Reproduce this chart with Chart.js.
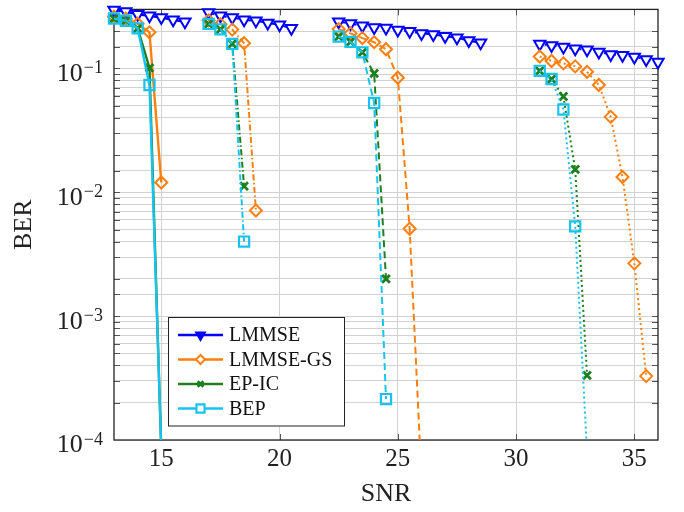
<!DOCTYPE html>
<html>
<head>
<meta charset="utf-8">
<script src="https://cdn.jsdelivr.net/npm/chart.js@4.4.1/dist/chart.umd.min.js"></script>
<style>
  html, body { margin: 0; padding: 0; background: #fff; }
  #wrap { width: 684px; height: 512px; }
</style>
</head>
<body>
<div id="wrap"><canvas id="ber" width="684" height="512"></canvas></div>
<script>
// axis ticks
const xTicks = [15, 20, 25, 30, 35];
const yExponents = [-1, -2, -3, -4];
const seriesNames = ['LMMSE', 'LMMSE-GS', 'EP-IC', 'BEP'];

// solid group
const snrSolidA = [13, 13.5, 14, 14.5, 15, 15.5, 16];
const snrSolidB = [13, 13.5, 14, 14.5, 15];
const lmmseSolid = [0.297, 0.288, 0.274, 0.266, 0.258, 0.247, 0.238];
const lmmseGsSolid = [0.262, 0.252, 0.23, 0.196, 0.012];
const epicSolid = [0.253, 0.243, 0.211, 0.101, 0.00008];
const bepSolid = [0.253, 0.243, 0.211, 0.0736, 0.000085];

// dash-dot group
const snrDashDotA = [17, 17.5, 18, 18.5, 19, 19.5, 20, 20.5];
const snrDashDotB = [17, 17.5, 18, 18.5, 19];
const snrDashDotC = [17, 17.5, 18, 18.5];
const lmmseDashDot = [0.283, 0.266, 0.258, 0.247, 0.243, 0.233, 0.225, 0.211];
const lmmseGsDashDot = [0.245, 0.228, 0.206, 0.16, 0.00713];
const epicDashDot = [0.229, 0.207, 0.158, 0.0112];
const bepDashDot = [0.229, 0.207, 0.158, 0.0040];

// dashed group
const snrDashedA = [22.5, 23, 23.5, 24, 24.5, 25, 25.5, 26, 26.5, 27, 27.5, 28, 28.5];
const snrDashedB = [22.5, 23, 23.5, 24, 24.5, 25, 25.5, 26];
const snrDashedC = [22.5, 23, 23.5, 24, 24.5];
const lmmseDashed = [0.239, 0.231, 0.221, 0.214, 0.212, 0.205, 0.200, 0.192, 0.188, 0.182, 0.177, 0.168, 0.161];
const lmmseGsDashed = [0.208, 0.192, 0.176, 0.163, 0.143, 0.0842, 0.00508, 0.00005];
const epicDashed = [0.181, 0.164, 0.135, 0.0912, 0.0020];
const bepDashed = [0.181, 0.164, 0.135, 0.0526, 0.000214];

// dotted group
const snrDottedA = [31, 31.5, 32, 32.5, 33, 33.5, 34, 34.5, 35, 35.5, 36];
const snrDottedB = [31, 31.5, 32, 32.5, 33, 33.5, 34, 34.5, 35, 35.5];
const snrDottedC = [31, 31.5, 32, 32.5, 33];
const lmmseDotted = [0.158, 0.153, 0.149, 0.144, 0.142, 0.136, 0.130, 0.128, 0.124, 0.118, 0.113];
const lmmseGsDotted = [0.125, 0.115, 0.110, 0.104, 0.094, 0.0736, 0.0407, 0.0133, 0.00267, 0.000328];
const epicDotted = [0.0957, 0.0822, 0.0594, 0.0153, 0.000333];
const bepDotted = [0.0957, 0.0822, 0.0466, 0.00531, 0.00008];

const FONT = "'Liberation Serif', 'Times New Roman', serif";

// marker look per series
const look = {
  'LMMSE':    { color: '#0000ff', pointStyle: 'triangle', rotation: 180, radius: 6.5, bw: 2,   bg: '#ffffff', order: 4 },
  'LMMSE-GS': { color: '#ff7f0e', pointStyle: 'rectRot',  rotation: 0,   radius: 6,   bw: 2,   bg: 'rgba(0,0,0,0)', order: 3 },
  'EP-IC':    { color: '#1d7f1d', pointStyle: 'crossRot', rotation: 0,   radius: 5.5, bw: 2.8, bg: 'rgba(0,0,0,0)', order: 2 },
  'BEP':      { color: '#17c3ee', pointStyle: 'rect',     rotation: 0,   radius: 7.2, bw: 2.2, bg: 'rgba(0,0,0,0)', order: 1 }
};

const DASH = {
  solid: [],
  dashDot: [6, 2.5, 1.5, 2.5],
  dashed: [7, 4],
  dotted: [2, 3]
};

function makeSet(name, xs, ys, dash) {
  const s = look[name];
  return {
    label: name,
    data: xs.map((x, i) => ({ x: x, y: ys[i] })),
    borderColor: s.color,
    backgroundColor: s.color,
    borderWidth: dash.length ? 2 : 2.4,
    borderDash: dash,
    pointStyle: s.pointStyle,
    pointRotation: s.rotation,
    pointRadius: s.radius,
    pointBorderWidth: s.bw,
    pointBorderColor: s.color,
    pointBackgroundColor: s.bg,
    tension: 0,
    fill: false,
    order: s.order,
    clip: { left: 8, top: 8, right: 8, bottom: 0 }
  };
}

const datasets = [
  makeSet('LMMSE', snrSolidA, lmmseSolid, DASH.solid),
  makeSet('LMMSE-GS', snrSolidB, lmmseGsSolid, DASH.solid),
  makeSet('EP-IC', snrSolidB, epicSolid, DASH.solid),
  makeSet('BEP', snrSolidB, bepSolid, DASH.solid),

  makeSet('LMMSE', snrDashDotA, lmmseDashDot, DASH.dashDot),
  makeSet('LMMSE-GS', snrDashDotB, lmmseGsDashDot, DASH.dashDot),
  makeSet('EP-IC', snrDashDotC, epicDashDot, DASH.dashDot),
  makeSet('BEP', snrDashDotC, bepDashDot, DASH.dashDot),

  makeSet('LMMSE', snrDashedA, lmmseDashed, DASH.dashed),
  makeSet('LMMSE-GS', snrDashedB, lmmseGsDashed, DASH.dashed),
  makeSet('EP-IC', snrDashedC, epicDashed, DASH.dashed),
  makeSet('BEP', snrDashedC, bepDashed, DASH.dashed),

  makeSet('LMMSE', snrDottedA, lmmseDotted, DASH.dotted),
  makeSet('LMMSE-GS', snrDottedB, lmmseGsDotted, DASH.dotted),
  makeSet('EP-IC', snrDottedC, epicDotted, DASH.dotted),
  makeSet('BEP', snrDottedC, bepDotted, DASH.dotted)
];

// frame + inward tick marks (under the data, like pgfplots)
const framePlugin = {
  id: 'frame',
  beforeDatasetsDraw(chart) {
    const { ctx, chartArea: a, scales } = chart;
    ctx.save();
    ctx.strokeStyle = '#555';
    ctx.lineWidth = 1;
    ctx.beginPath();
    scales.y.ticks.forEach(t => {
      const py = Math.round(scales.y.getPixelForValue(t.value)) + 0.5;
      if (py < a.top + 1 || py > a.bottom - 1) return;
      ctx.moveTo(a.left, py); ctx.lineTo(a.left + 6, py);
      ctx.moveTo(a.right, py); ctx.lineTo(a.right - 6, py);
    });
    xTicks.forEach(v => {
      const px = Math.round(scales.x.getPixelForValue(v)) + 0.5;
      ctx.moveTo(px, a.bottom); ctx.lineTo(px, a.bottom - 6);
      ctx.moveTo(px, a.top); ctx.lineTo(px, a.top + 6);
    });
    ctx.stroke();
    ctx.strokeStyle = '#222';
    ctx.lineWidth = 1.3;
    ctx.strokeRect(a.left, a.top, a.right - a.left, a.bottom - a.top);
    ctx.restore();
  },
  afterDraw(chart) {
    const { ctx, scales } = chart;
    ctx.save();
    // y tick labels 10^k
    ctx.fillStyle = '#222';
    yExponents.forEach(k => {
      const py = scales.y.getPixelForValue(Math.pow(10, k));
      const sup = '\u2212' + Math.abs(k);
      ctx.font = '18px ' + FONT;
      const supW = ctx.measureText(sup).width;
      const right = 103;
      ctx.textAlign = 'left';
      ctx.textBaseline = 'alphabetic';
      ctx.fillText(sup, right - supW, py + 4.5);
      ctx.font = '26px ' + FONT;
      ctx.textAlign = 'right';
      ctx.fillText('10', right - supW - 1, py + 12.4);
    });

    // legend box
    const box = { left: 168.5, top: 317.5, right: 344.5, bottom: 426 };
    ctx.fillStyle = '#fff';
    ctx.fillRect(box.left, box.top, box.right - box.left, box.bottom - box.top);
    ctx.strokeStyle = '#222';
    ctx.lineWidth = 1;
    ctx.strokeRect(box.left, box.top, box.right - box.left, box.bottom - box.top);
    const rowY = [335, 359.5, 384, 408.5];
    seriesNames.forEach((name, i) => {
      const s = look[name];
      const y = rowY[i];
      ctx.strokeStyle = s.color;
      ctx.lineWidth = 2.4;
      ctx.setLineDash([]);
      ctx.beginPath();
      ctx.moveTo(178, y); ctx.lineTo(223, y);
      ctx.stroke();
      ctx.fillStyle = name === 'LMMSE' ? s.color : '#fff';
      ctx.lineWidth = s.bw;
      Chart.helpers.drawPoint(ctx, {
        pointStyle: s.pointStyle, rotation: s.rotation,
        radius: name === 'EP-IC' ? 4 : s.radius - 1.5, borderWidth: s.bw
      }, 200.5, y);
      ctx.fillStyle = '#111';
      ctx.font = '20px ' + FONT;
      ctx.textAlign = 'left';
      ctx.textBaseline = 'middle';
      ctx.fillText(name, 229, y + 1);
    });
    ctx.restore();
  }
};

Chart.defaults.font.family = FONT;
Chart.defaults.color = '#222';

new Chart(document.getElementById('ber'), {
  type: 'line',
  data: { datasets: datasets },
  options: {
    responsive: false,
    animation: false,
    devicePixelRatio: 1,
    layout: { padding: { top: 4, right: 26, left: 0, bottom: 0 } },
    plugins: { legend: { display: false }, tooltip: { enabled: false } },
    scales: {
      x: {
        type: 'linear',
        min: 13,
        max: 36,
        afterBuildTicks: s => { s.ticks = xTicks.map(v => ({ value: v })); },
        afterFit: s => { s.height = 72; },
        grid: { color: '#d2d2d2', lineWidth: 1, drawTicks: false },
        border: { display: false },
        ticks: { font: { size: 25 }, padding: 4, color: '#222', maxRotation: 0 },
        title: { display: true, text: 'SNR', font: { size: 26 }, color: '#222', padding: 2 }
      },
      y: {
        type: 'logarithmic',
        min: 1e-4,
        max: 0.3,
        afterFit: s => { s.width = 114; },
        grid: { color: '#d2d2d2', lineWidth: 1, drawTicks: false },
        border: { display: false },
        ticks: { display: false },
        title: { display: true, text: 'BER', font: { size: 26 }, color: '#222', padding: 9 }
      }
    }
  },
  plugins: [framePlugin]
});
</script>
</body>
</html>
